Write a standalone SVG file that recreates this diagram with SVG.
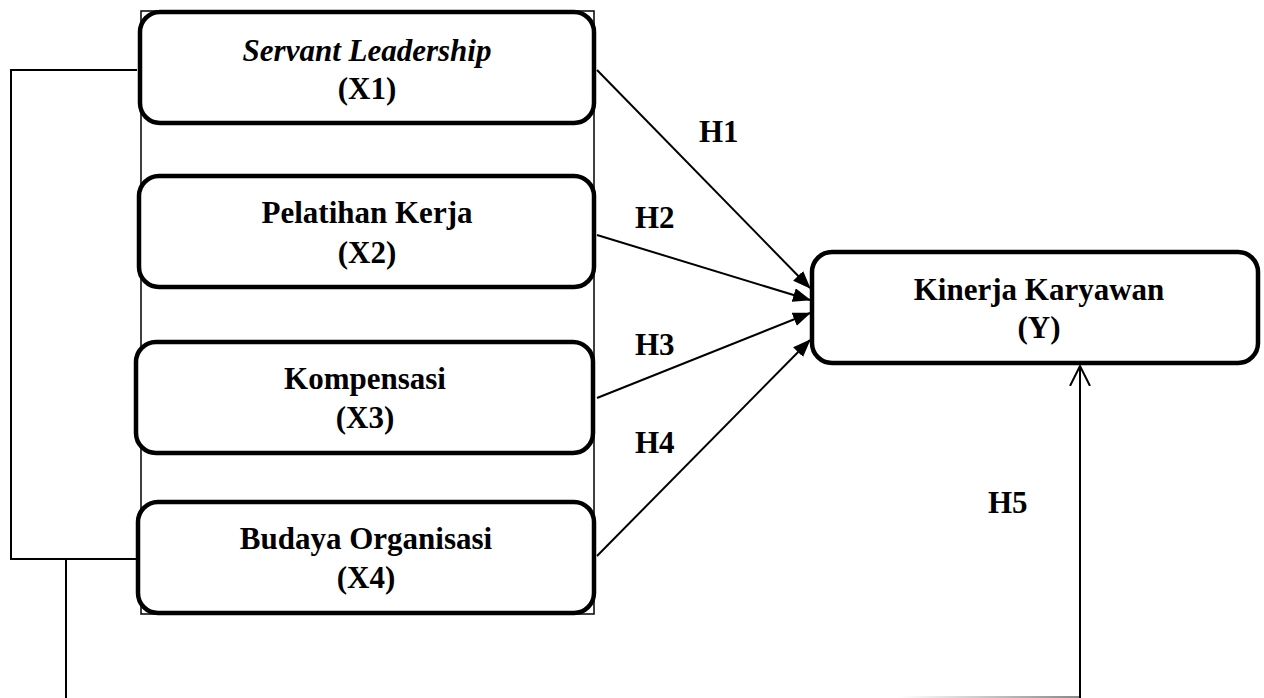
<svg xmlns="http://www.w3.org/2000/svg" width="1264" height="698" viewBox="0 0 1264 698">
<style>
.box{fill:#fff;stroke:#000;stroke-width:4.5}
.t{font-family:"Liberation Serif","Times New Roman",serif;font-weight:bold;font-size:31px;fill:#000;text-anchor:middle}
.it{font-style:italic}
.lbl{font-family:"Liberation Serif","Times New Roman",serif;font-weight:bold;font-size:31px;fill:#000}
.ln{fill:none;stroke:#000;stroke-width:2}
.thin{fill:none;stroke:#000;stroke-width:1.5}
</style>
<defs>
<marker id="ah" markerWidth="18" markerHeight="14" refX="17" refY="7" orient="auto" markerUnits="userSpaceOnUse">
<path d="M0,0 L18,7 L0,14 Z" fill="#000"/>
</marker>
<marker id="oa" markerWidth="22" markerHeight="24" refX="20" refY="12" orient="auto" markerUnits="userSpaceOnUse">
<path d="M0,2 L20,12 L0,22" fill="none" stroke="#000" stroke-width="2"/>
</marker>
<linearGradient id="fade" gradientUnits="userSpaceOnUse" x1="900" y1="0" x2="1080" y2="0">
<stop offset="0" stop-color="#fff"/>
<stop offset="1" stop-color="#888"/>
</linearGradient>
</defs>
<g id="frame">
<rect class="thin" x="141" y="11" width="453" height="603"/>
</g>
<g id="connectors">
<path class="ln" d="M137,70 H11 V559 H137"/>
<line class="ln" x1="66" y1="559" x2="66" y2="698"/>
<line x1="900" y1="697" x2="1080" y2="697" stroke="url(#fade)" stroke-width="2"/>
<line class="ln" x1="1080" y1="698" x2="1080" y2="366" marker-end="url(#oa)"/>
<line class="ln" x1="597" y1="70" x2="810" y2="288" marker-end="url(#ah)"/>
<line class="ln" x1="597" y1="235" x2="810" y2="300" marker-end="url(#ah)"/>
<line class="ln" x1="597" y1="398" x2="810" y2="313" marker-end="url(#ah)"/>
<line class="ln" x1="597" y1="556" x2="810" y2="340" marker-end="url(#ah)"/>
</g>
<g id="labels">
<text class="lbl" x="699" y="142">H1</text>
<text class="lbl" x="635" y="228">H2</text>
<text class="lbl" x="635" y="355">H3</text>
<text class="lbl" x="635" y="453">H4</text>
<text class="lbl" x="988" y="513">H5</text>
</g>
<g id="x1">
<rect class="box" x="140" y="12" width="454" height="111" rx="20"/>
<text class="t it" x="367" y="61">Servant Leadership</text>
<text class="t" x="367" y="99">(X1)</text>
</g>
<g id="x2">
<rect class="box" x="139" y="176" width="455" height="111" rx="20"/>
<text class="t" x="367" y="223">Pelatihan Kerja</text>
<text class="t" x="367" y="263">(X2)</text>
</g>
<g id="x3">
<rect class="box" x="136" y="342" width="457" height="111" rx="20"/>
<text class="t" x="365" y="389">Kompensasi</text>
<text class="t" x="365" y="428">(X3)</text>
</g>
<g id="x4">
<rect class="box" x="138" y="502" width="456" height="111" rx="20"/>
<text class="t" x="366" y="549">Budaya Organisasi</text>
<text class="t" x="366" y="588">(X4)</text>
</g>
<g id="y">
<rect class="box" x="812" y="252" width="446" height="111" rx="20"/>
<text class="t" x="1039" y="300">Kinerja Karyawan</text>
<text class="t" x="1039" y="338">(Y)</text>
</g>
</svg>
